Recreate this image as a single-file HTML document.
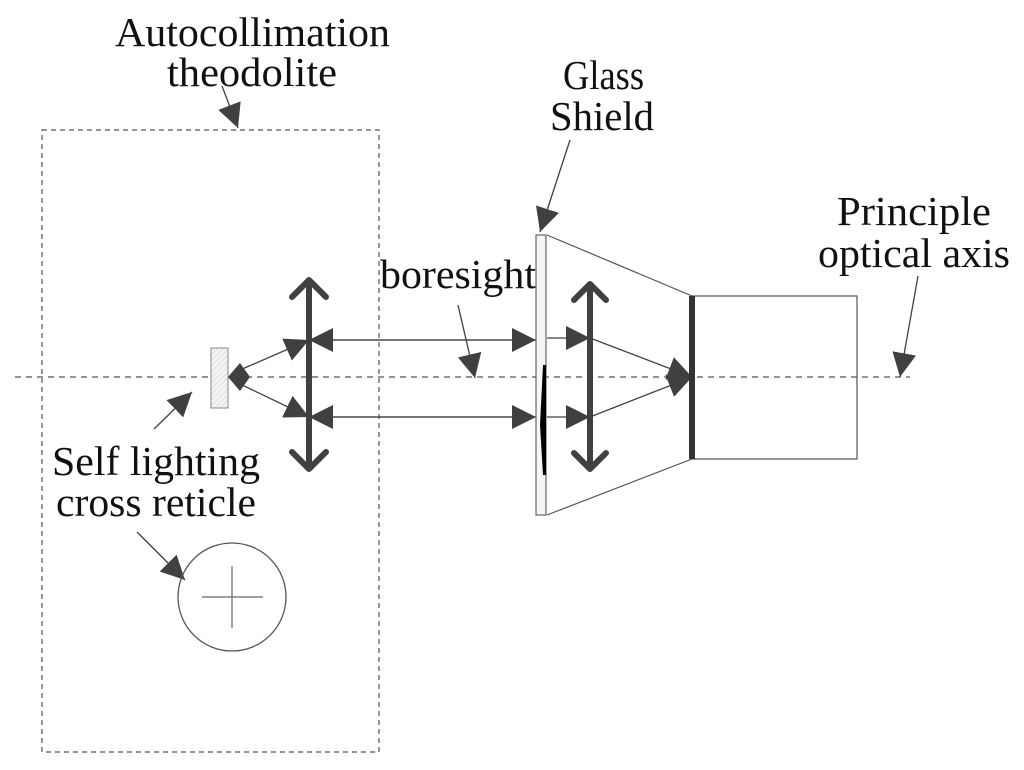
<!DOCTYPE html>
<html><head><meta charset="utf-8"><style>html,body{margin:0;padding:0;background:#fff}svg{display:block}</style></head>
<body>
<svg width="1024" height="770" viewBox="0 0 1024 770" xmlns="http://www.w3.org/2000/svg">
<defs>
<marker id="a" viewBox="0 0 10 10" refX="10" refY="5" markerWidth="24" markerHeight="24" markerUnits="userSpaceOnUse" orient="auto"><path d="M0,0L10,5L0,10z" fill="#404040"/></marker>
<pattern id="h" width="4" height="4" patternUnits="userSpaceOnUse" patternTransform="rotate(45)"><rect width="4" height="4" fill="#f4f4f4"/><line x1="0" y1="0" x2="0" y2="4" stroke="#ccc" stroke-width="1"/></pattern>
</defs>
<g font-family="Liberation Serif, serif" font-size="41" fill="#111">
<text x="115" y="46" textLength="275" lengthAdjust="spacingAndGlyphs">Autocollimation</text>
<text x="167" y="86" textLength="170" lengthAdjust="spacingAndGlyphs">theodolite</text>
<text x="563" y="89" textLength="81" lengthAdjust="spacingAndGlyphs">Glass</text>
<text x="550" y="130" textLength="104" lengthAdjust="spacingAndGlyphs">Shield</text>
<text x="380" y="288" textLength="156" lengthAdjust="spacingAndGlyphs">boresight</text>
<text x="837" y="225" textLength="154" lengthAdjust="spacingAndGlyphs">Principle</text>
<text x="818" y="267" textLength="192" lengthAdjust="spacingAndGlyphs">optical axis</text>
<text x="52" y="475" textLength="208" lengthAdjust="spacingAndGlyphs">Self lighting</text>
<text x="56" y="516" textLength="200" lengthAdjust="spacingAndGlyphs">cross reticle</text>
</g>
<rect x="42" y="130" width="337" height="622" fill="none" stroke="#555" stroke-width="1.2" stroke-dasharray="5,4"/>
<line x1="15" y1="377" x2="910" y2="377" stroke="#555" stroke-width="1.2" stroke-dasharray="6,5"/>
<g stroke="#404040" stroke-width="1.3" fill="none" marker-end="url(#a)">
<line x1="222" y1="86" x2="238" y2="128"/>
<line x1="570" y1="140" x2="540" y2="232"/>
<line x1="458" y1="305" x2="475" y2="378"/>
<line x1="918" y1="276" x2="900" y2="377"/>
<line x1="154" y1="429" x2="192" y2="392"/>
<line x1="137" y1="532" x2="185" y2="580"/>
</g>
<rect x="211" y="348" width="17" height="60" fill="url(#h)" stroke="#888" stroke-width="1"/>
<path d="M228,377 L240,363 L250,377 L240,391z" fill="#404040"/>
<g stroke="#404040" stroke-width="1.3" fill="none">
<line x1="240" y1="370" x2="309" y2="340" marker-end="url(#a)"/>
<line x1="240" y1="384" x2="309" y2="417" marker-end="url(#a)"/>
<line x1="309" y1="340" x2="536" y2="340" marker-end="url(#a)"/>
<line x1="309" y1="417" x2="536" y2="417" marker-end="url(#a)"/>
<line x1="536" y1="340" x2="309" y2="340" marker-end="url(#a)"/>
<line x1="536" y1="417" x2="309" y2="417" marker-end="url(#a)"/>
<line x1="547" y1="338" x2="590" y2="338" marker-end="url(#a)"/>
<line x1="547" y1="417" x2="590" y2="417" marker-end="url(#a)"/>
<line x1="590" y1="338" x2="692" y2="377" marker-end="url(#a)"/>
<line x1="590" y1="417" x2="692" y2="377" marker-end="url(#a)"/>
</g>
<g stroke="#404040" stroke-width="6" fill="none" stroke-linecap="round" stroke-linejoin="round">
<line x1="309" y1="282" x2="309" y2="467"/>
<polyline points="292,297 309,280 326,297"/>
<polyline points="292,452 309,469 326,452"/>
<line x1="590" y1="285" x2="590" y2="468"/>
<polyline points="574,300 590,284 606,300"/>
<polyline points="574,453 590,469 606,453"/>
</g>
<rect x="536" y="235" width="10" height="280" fill="#f6f6f6" stroke="#666" stroke-width="1.2"/>
<path d="M543,365 L546,365 L546,475 L543,475 L540,425z" fill="#000"/>
<polyline points="547,235 692,296 692,459 547,515" fill="none" stroke="#555" stroke-width="1.2"/>
<rect x="692" y="296" width="165" height="163" fill="none" stroke="#555" stroke-width="1.2"/>
<line x1="692" y1="296" x2="692" y2="459" stroke="#333" stroke-width="6"/>
<circle cx="232" cy="597" r="54" fill="none" stroke="#555" stroke-width="1.3"/>
<line x1="202" y1="597" x2="263" y2="597" stroke="#666" stroke-width="1.2"/>
<line x1="232" y1="566" x2="232" y2="628" stroke="#666" stroke-width="1.2"/>
</svg>
</body></html>
